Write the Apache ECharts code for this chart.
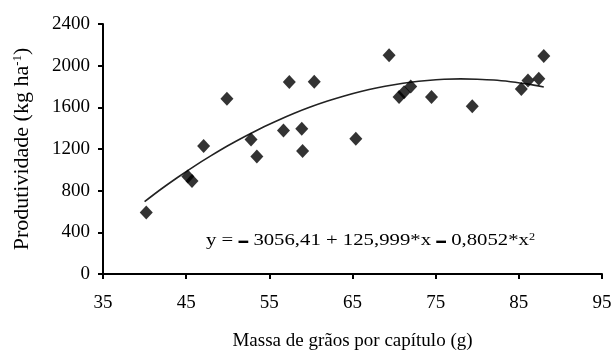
<!DOCTYPE html>
<html>
<head>
<meta charset="utf-8">
<script src="https://cdn.jsdelivr.net/npm/echarts@6/dist/echarts.min.js"></script>
<style>html,body{margin:0;padding:0;background:#fff}#c{width:615px;height:356px}</style>
</head>
<body>
<div id="c"></div>
<script>
var massX = [40.2, 45.2, 45.7, 47.1, 49.9, 52.8, 53.5, 56.7, 57.4, 58.9, 59.0, 60.4, 65.4, 69.4, 70.6, 71.2, 72.0, 74.5, 79.4, 85.3, 86.1, 87.4, 88.0];
var prodY = [590, 936, 893, 1228, 1683, 1292, 1127, 1378, 1843, 1394, 1180, 1845, 1298, 2100, 1700, 1745, 1800, 1699, 1610, 1776, 1858, 1874, 2094];
var curveX = [40, 42, 44, 46, 48, 50, 52, 54, 56, 58, 60, 62, 64, 66, 68, 70, 72, 74, 76, 78, 80, 82, 84, 86, 88];
var curveY = [695, 816, 929, 1036, 1136, 1231, 1318, 1400, 1474, 1543, 1605, 1660, 1709, 1752, 1788, 1817, 1841, 1858, 1869, 1873, 1870, 1862, 1846, 1825, 1796];
var xTicks = [35, 45, 55, 65, 75, 85, 95];
var yTicks = [0, 400, 800, 1200, 1600, 2000, 2400];

var font = 'Liberation Serif';
var chart = echarts.init(document.getElementById('c'), null, {renderer: 'canvas'});
chart.setOption({
  animation: false,
  backgroundColor: '#fff',
  grid: {left: 103, right: 13, top: 24, bottom: 81, containLabel: false},
  xAxis: {
    type: 'value', min: xTicks[0], max: xTicks[xTicks.length - 1], interval: 10,
    name: 'Massa de grãos por capítulo (g)', nameLocation: 'middle', nameGap: 58,
    nameTextStyle: {fontFamily: font, fontSize: 19, color: '#000'},
    axisLine: {onZero: false, lineStyle: {color: '#000', width: 2}},
    axisTick: {show: true, length: 5, lineStyle: {color: '#000', width: 2}},
    axisLabel: {fontFamily: font, fontSize: 19, color: '#000', margin: 20,
      formatter: function (v) { return String(v); }},
    splitLine: {show: false}
  },
  yAxis: {
    type: 'value', min: yTicks[0], max: yTicks[yTicks.length - 1], interval: 400,
    name: 'Produtividade (kg ha{sup|-1})', nameLocation: 'middle', nameGap: 69,
    nameTextStyle: {fontFamily: font, fontSize: 22, color: '#000',
      rich: {sup: {fontFamily: font, fontSize: 13, color: '#000', verticalAlign: 'top', padding: [0, 0, 10, 0]}}},
    axisLine: {show: true, lineStyle: {color: '#000', width: 2}},
    axisTick: {show: true, length: 5, lineStyle: {color: '#000', width: 2}},
    axisLabel: {fontFamily: font, fontSize: 19, color: '#000', margin: 13,
      formatter: function (v) { return String(v); }},
    splitLine: {show: false}
  },
  series: [
    {
      type: 'line', data: curveX.map(function (x, i) { return [x, curveY[i]]; }),
      smooth: 0.3, showSymbol: false, symbol: 'none',
      lineStyle: {color: '#222', width: 1.6}, z: 2
    },
    {
      type: 'scatter', data: massX.map(function (x, i) { return [x, prodY[i]]; }),
      symbol: 'diamond', symbolSize: [13, 14],
      itemStyle: {color: '#000'}, z: 3
    }
  ],
  graphic: [{
    type: 'text', x: 206, y: 232, scaleX: 1.22, scaleY: 1,
    style: {
      text: 'y = {m|▬} 3056,41 + 125,999*x {m|▬} 0,8052*x{s|2}',
      font: '17px "Liberation Serif"', fill: '#000',
      rich: {
        m: {fontFamily: font, fontSize: 8, fill: '#000'},
        s: {fontFamily: font, fontSize: 10, fill: '#000', verticalAlign: 'top', padding: [0, 0, 6, 0]}
      }
    }
  }]
});
</script>
</body>
</html>
